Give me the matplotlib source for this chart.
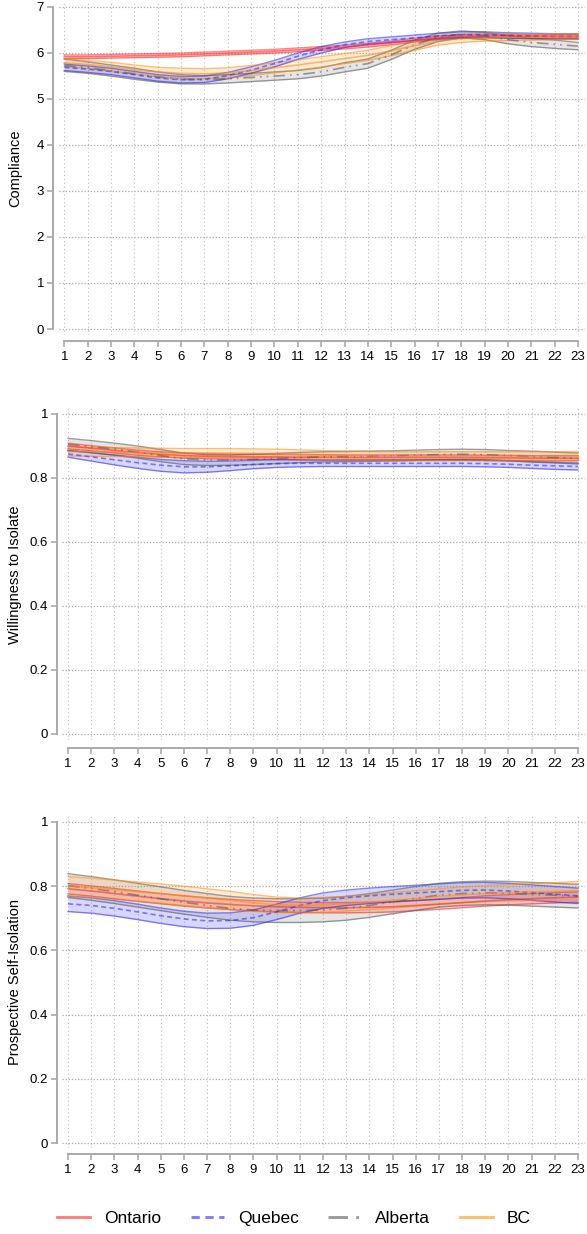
import matplotlib
matplotlib.use("Agg")
import matplotlib.pyplot as plt
from matplotlib.lines import Line2D

plt.rcParams['font.family'] = ['Liberation Sans', 'DejaVu Sans']

weeks = list(range(1, 24))
regions = ['Ontario', 'Quebec', 'Alberta', 'BC']

# ---------- Compliance ----------
comp_ontario = [5.91, 5.91, 5.92, 5.93, 5.94, 5.95, 5.97, 5.99, 6.01, 6.03, 6.06, 6.09,
                6.12, 6.16, 6.21, 6.27, 6.32, 6.35, 6.36, 6.36, 6.35, 6.35, 6.35]
comp_ontario_lo = [5.87, 5.87, 5.88, 5.89, 5.90, 5.91, 5.93, 5.95, 5.97, 5.99, 6.02, 6.05,
                   6.08, 6.12, 6.17, 6.23, 6.28, 6.31, 6.32, 6.32, 6.31, 6.31, 6.31]
comp_ontario_hi = [5.95, 5.95, 5.96, 5.97, 5.98, 5.99, 6.01, 6.03, 6.05, 6.07, 6.10, 6.13,
                   6.16, 6.20, 6.25, 6.31, 6.36, 6.39, 6.40, 6.40, 6.39, 6.39, 6.39]
comp_quebec = [5.68, 5.64, 5.59, 5.52, 5.45, 5.41, 5.42, 5.50, 5.62, 5.76, 5.92, 6.06,
               6.17, 6.24, 6.28, 6.32, 6.36, 6.39, 6.39, 6.37, 6.36, 6.35, 6.35]
comp_quebec_lo = [5.61, 5.57, 5.52, 5.45, 5.38, 5.34, 5.35, 5.43, 5.55, 5.69, 5.85, 5.99,
                  6.11, 6.18, 6.22, 6.26, 6.30, 6.33, 6.33, 6.31, 6.30, 6.29, 6.29]
comp_quebec_hi = [5.75, 5.71, 5.66, 5.59, 5.52, 5.48, 5.49, 5.57, 5.69, 5.83, 5.99, 6.13,
                  6.23, 6.30, 6.34, 6.38, 6.42, 6.45, 6.45, 6.43, 6.42, 6.41, 6.41]
comp_alberta = [5.72, 5.67, 5.61, 5.54, 5.47, 5.42, 5.41, 5.43, 5.46, 5.49, 5.52, 5.58,
                5.68, 5.76, 5.95, 6.17, 6.33, 6.40, 6.36, 6.28, 6.22, 6.18, 6.14]
comp_alberta_lo = [5.59, 5.55, 5.49, 5.42, 5.36, 5.32, 5.32, 5.34, 5.37, 5.40, 5.43, 5.49,
                   5.58, 5.66, 5.85, 6.07, 6.24, 6.32, 6.28, 6.19, 6.13, 6.09, 6.06]
comp_alberta_hi = [5.86, 5.80, 5.73, 5.66, 5.58, 5.52, 5.50, 5.52, 5.55, 5.58, 5.61, 5.67,
                   5.78, 5.86, 6.05, 6.27, 6.42, 6.47, 6.44, 6.37, 6.31, 6.27, 6.22]
comp_bc = [5.78, 5.74, 5.69, 5.63, 5.58, 5.55, 5.54, 5.56, 5.61, 5.67, 5.73, 5.80,
           5.87, 5.94, 6.04, 6.15, 6.25, 6.30, 6.32, 6.33, 6.33, 6.34, 6.34]
comp_bc_lo = [5.70, 5.65, 5.59, 5.53, 5.48, 5.44, 5.43, 5.45, 5.50, 5.56, 5.62, 5.69,
              5.76, 5.83, 5.93, 6.05, 6.16, 6.22, 6.25, 6.26, 6.27, 6.28, 6.28]
comp_bc_hi = [5.87, 5.83, 5.79, 5.73, 5.68, 5.66, 5.65, 5.67, 5.72, 5.78, 5.84, 5.91,
              5.98, 6.05, 6.15, 6.25, 6.34, 6.38, 6.39, 6.40, 6.40, 6.41, 6.41]

# ---------- Willingness to Isolate ----------
will_ontario = [0.900, 0.893, 0.886, 0.879, 0.874, 0.870, 0.868, 0.867, 0.866, 0.866, 0.865, 0.865,
                0.864, 0.864, 0.864, 0.864, 0.864, 0.864, 0.863, 0.863, 0.862, 0.862, 0.862]
will_ontario_lo = [0.891, 0.885, 0.878, 0.871, 0.866, 0.862, 0.860, 0.859, 0.858, 0.858, 0.857, 0.857,
                   0.856, 0.856, 0.856, 0.856, 0.856, 0.856, 0.855, 0.855, 0.854, 0.854, 0.854]
will_ontario_hi = [0.909, 0.901, 0.894, 0.887, 0.882, 0.878, 0.876, 0.875, 0.874, 0.874, 0.873, 0.873,
                   0.872, 0.872, 0.872, 0.872, 0.872, 0.872, 0.871, 0.871, 0.870, 0.870, 0.870]
will_quebec = [0.875, 0.866, 0.857, 0.848, 0.840, 0.835, 0.835, 0.838, 0.842, 0.845, 0.846, 0.846,
               0.846, 0.846, 0.846, 0.846, 0.846, 0.846, 0.845, 0.843, 0.840, 0.838, 0.836]
will_quebec_lo = [0.865, 0.853, 0.841, 0.830, 0.821, 0.816, 0.818, 0.823, 0.829, 0.833, 0.835, 0.836,
                  0.836, 0.836, 0.836, 0.836, 0.836, 0.836, 0.835, 0.833, 0.830, 0.827, 0.825]
will_quebec_hi = [0.886, 0.879, 0.872, 0.865, 0.858, 0.854, 0.852, 0.853, 0.855, 0.857, 0.857, 0.856,
                  0.856, 0.856, 0.856, 0.856, 0.856, 0.856, 0.855, 0.853, 0.851, 0.849, 0.847]
will_alberta = [0.905, 0.898, 0.890, 0.881, 0.870, 0.860, 0.856, 0.856, 0.858, 0.861, 0.864, 0.866,
                0.867, 0.868, 0.869, 0.871, 0.873, 0.874, 0.873, 0.870, 0.867, 0.864, 0.861]
will_alberta_lo = [0.886, 0.879, 0.871, 0.862, 0.851, 0.842, 0.839, 0.840, 0.842, 0.845, 0.848, 0.850,
                   0.851, 0.852, 0.853, 0.855, 0.857, 0.858, 0.857, 0.854, 0.850, 0.847, 0.844]
will_alberta_hi = [0.924, 0.917, 0.909, 0.900, 0.889, 0.878, 0.873, 0.872, 0.874, 0.877, 0.880, 0.882,
                   0.883, 0.884, 0.885, 0.887, 0.889, 0.890, 0.889, 0.886, 0.884, 0.881, 0.878]
will_bc = [0.883, 0.882, 0.881, 0.880, 0.879, 0.878, 0.878, 0.878, 0.877, 0.876, 0.874, 0.872,
           0.870, 0.869, 0.868, 0.868, 0.868, 0.868, 0.868, 0.868, 0.868, 0.868, 0.869]
will_bc_lo = [0.869, 0.868, 0.867, 0.866, 0.865, 0.864, 0.864, 0.864, 0.863, 0.862, 0.860, 0.858,
              0.856, 0.855, 0.854, 0.854, 0.854, 0.854, 0.854, 0.854, 0.854, 0.854, 0.855]
will_bc_hi = [0.897, 0.896, 0.895, 0.894, 0.893, 0.892, 0.892, 0.892, 0.891, 0.890, 0.888, 0.886,
              0.884, 0.883, 0.882, 0.882, 0.882, 0.882, 0.882, 0.882, 0.882, 0.882, 0.883]

# ---------- Prospective Self-Isolation ----------
pros_ontario = [0.792, 0.785, 0.777, 0.769, 0.761, 0.754, 0.748, 0.743, 0.739, 0.736, 0.734, 0.733,
                0.733, 0.734, 0.736, 0.740, 0.744, 0.749, 0.754, 0.758, 0.761, 0.764, 0.766]
pros_ontario_lo = [0.776, 0.769, 0.761, 0.753, 0.745, 0.738, 0.732, 0.727, 0.723, 0.720, 0.718, 0.717,
                   0.717, 0.718, 0.720, 0.724, 0.728, 0.733, 0.738, 0.742, 0.745, 0.748, 0.750]
pros_ontario_hi = [0.808, 0.801, 0.793, 0.785, 0.777, 0.770, 0.764, 0.759, 0.755, 0.752, 0.750, 0.749,
                   0.749, 0.750, 0.752, 0.756, 0.760, 0.765, 0.770, 0.774, 0.777, 0.780, 0.782]
pros_quebec = [0.745, 0.740, 0.731, 0.720, 0.708, 0.698, 0.692, 0.693, 0.702, 0.720, 0.740, 0.755,
               0.764, 0.770, 0.775, 0.779, 0.783, 0.787, 0.788, 0.785, 0.780, 0.775, 0.770]
pros_quebec_lo = [0.721, 0.716, 0.707, 0.696, 0.684, 0.674, 0.668, 0.669, 0.678, 0.696, 0.716, 0.731,
                  0.740, 0.746, 0.751, 0.755, 0.759, 0.763, 0.764, 0.761, 0.756, 0.751, 0.746]
pros_quebec_hi = [0.769, 0.764, 0.755, 0.744, 0.732, 0.722, 0.716, 0.717, 0.726, 0.744, 0.764, 0.779,
                  0.788, 0.794, 0.799, 0.803, 0.807, 0.811, 0.812, 0.809, 0.804, 0.799, 0.794]
pros_alberta = [0.802, 0.793, 0.783, 0.772, 0.761, 0.750, 0.740, 0.731, 0.726, 0.724, 0.724, 0.726,
                0.731, 0.740, 0.751, 0.762, 0.772, 0.777, 0.779, 0.778, 0.775, 0.772, 0.769]
pros_alberta_lo = [0.765, 0.756, 0.746, 0.735, 0.724, 0.713, 0.703, 0.694, 0.689, 0.687, 0.687, 0.689,
                   0.694, 0.703, 0.714, 0.725, 0.735, 0.740, 0.742, 0.741, 0.738, 0.735, 0.732]
pros_alberta_hi = [0.839, 0.830, 0.820, 0.809, 0.798, 0.787, 0.777, 0.768, 0.763, 0.761, 0.761, 0.763,
                   0.768, 0.777, 0.788, 0.799, 0.809, 0.814, 0.816, 0.815, 0.812, 0.809, 0.806]
pros_bc = [0.800, 0.795, 0.789, 0.783, 0.777, 0.770, 0.763, 0.756, 0.748, 0.742, 0.740, 0.742,
           0.745, 0.750, 0.756, 0.762, 0.768, 0.773, 0.777, 0.780, 0.782, 0.784, 0.786]
pros_bc_lo = [0.770, 0.765, 0.759, 0.753, 0.747, 0.740, 0.734, 0.728, 0.722, 0.718, 0.717, 0.719,
              0.722, 0.727, 0.732, 0.738, 0.744, 0.748, 0.752, 0.754, 0.756, 0.757, 0.757]
pros_bc_hi = [0.830, 0.825, 0.819, 0.813, 0.807, 0.800, 0.792, 0.784, 0.774, 0.766, 0.763, 0.765,
              0.768, 0.773, 0.780, 0.786, 0.792, 0.798, 0.802, 0.806, 0.808, 0.811, 0.815]

colors = {'Ontario': '#FF2020', 'Quebec': '#2020FF', 'Alberta': '#505050', 'BC': '#FF8C00'}
fills = {'Ontario': '#FF4040', 'Quebec': '#4040FF', 'Alberta': '#808080', 'BC': '#FFA040'}
styles = {'Ontario': '-', 'Quebec': (0, (3, 2)), 'Alberta': (0, (7, 3, 1, 3, 1, 3)), 'BC': '-'}

W, H = 587, 1234
fig = plt.figure(figsize=(W / 100, H / 100), dpi=100)


def make_axes(left_px, right_px, top_px, bot_px):
    return fig.add_axes([left_px / W, 1 - bot_px / H, (right_px - left_px) / W, (bot_px - top_px) / H])


def draw_panel(ax, data, ymax, yticks, yticklabels, ylabel, ylab_y, px_per_unit_x, x1_px,
               left_px, right_px, zero_px, unit_px, top_px, bot_px, spine_px, axis_px):
    for reg in regions:
        m, lo, hi = data[reg]
        c = colors[reg]
        ax.fill_between(weeks, lo, hi, color=fills[reg], alpha=0.2, lw=0, zorder=2)
        ax.plot(weeks, lo, color=c, alpha=0.55, lw=1.0, zorder=3)
        ax.plot(weeks, hi, color=c, alpha=0.55, lw=1.0, zorder=3)
        ax.plot(weeks, m, color=c, alpha=0.55, lw=1.2, ls=styles[reg], zorder=4)
    # x range so that week 1 and week 23 land on the reference pixels
    xlo = 1 - (x1_px - left_px) / px_per_unit_x
    xhi = 23 + (right_px - (x1_px + 22 * px_per_unit_x)) / px_per_unit_x
    ax.set_xlim(xlo, xhi)
    ylo = -(bot_px - zero_px) / unit_px
    yhi = (zero_px - top_px) / unit_px
    ax.set_ylim(ylo * ymax, yhi * ymax)
    for x in weeks:
        ax.axvline(x, color='#BBBBBB', lw=0.8, ls=(0, (1, 2.5)), zorder=1)
    for y in yticks:
        ax.axhline(y, color='#AAAAAA', lw=0.9, ls=(0, (1, 1.5)), zorder=1)
    for s in ['top', 'right']:
        ax.spines[s].set_visible(False)
    ax.spines['left'].set_position(('outward', (left_px - spine_px) * 0.72))
    ax.spines['bottom'].set_position(('outward', (axis_px - bot_px) * 0.72))
    ax.spines['left'].set_bounds(0, ymax)
    ax.spines['bottom'].set_bounds(1, 23)
    for s in ['left', 'bottom']:
        ax.spines[s].set_color('#AAAAAA')
        ax.spines[s].set_linewidth(1.4)
    ax.set_xticks(weeks)
    ax.set_xticklabels([str(w) for w in weeks])
    ax.set_yticks(yticks)
    ax.set_yticklabels(yticklabels)
    ax.tick_params(axis='both', colors='#AAAAAA', labelcolor='black', labelsize=9.5,
                   length=4, width=1.2)
    ax.tick_params(axis='y', pad=2.5)
    ax.tick_params(axis='x', pad=3.5)
    fig.text(15 / W, 1 - ylab_y / H, ylabel, rotation=90, ha='center', va='center', fontsize=10.5)


panel1 = {'Ontario': (comp_ontario, comp_ontario_lo, comp_ontario_hi),
          'Quebec': (comp_quebec, comp_quebec_lo, comp_quebec_hi),
          'Alberta': (comp_alberta, comp_alberta_lo, comp_alberta_hi),
          'BC': (comp_bc, comp_bc_lo, comp_bc_hi)}
panel2 = {'Ontario': (will_ontario, will_ontario_lo, will_ontario_hi),
          'Quebec': (will_quebec, will_quebec_lo, will_quebec_hi),
          'Alberta': (will_alberta, will_alberta_lo, will_alberta_hi),
          'BC': (will_bc, will_bc_lo, will_bc_hi)}
panel3 = {'Ontario': (pros_ontario, pros_ontario_lo, pros_ontario_hi),
          'Quebec': (pros_quebec, pros_quebec_lo, pros_quebec_hi),
          'Alberta': (pros_alberta, pros_alberta_lo, pros_alberta_hi),
          'BC': (pros_bc, pros_bc_lo, pros_bc_hi)}

comp_ticks = [0, 1, 2, 3, 4, 5, 6, 7]
comp_ticklabels = ['0', '1', '2', '3', '4', '5', '6', '7']
prop_ticks = [0, 0.2, 0.4, 0.6, 0.8, 1.0]
prop_ticklabels = ['0', '0.2', '0.4', '0.6', '0.8', '1']

ax1 = make_axes(59, 585, 3, 335)
draw_panel(ax1, panel1, 7, comp_ticks, comp_ticklabels, 'Compliance', 168,
           23.35, 64.3, 59, 585, 329, 322.5, 3, 335, 53, 341)
ax2 = make_axes(62, 585, 408, 740)
draw_panel(ax2, panel2, 1, prop_ticks, prop_ticklabels, 'Willingness to Isolate', 575,
           23.18, 68, 62, 585, 734, 320, 408, 740, 57, 748)
ax3 = make_axes(62, 585, 815, 1148)
draw_panel(ax3, panel3, 1, prop_ticks, prop_ticklabels, 'Prospective Self-Isolation', 982,
           23.18, 68, 62, 585, 1143, 321, 815, 1148, 57, 1154)

handles = [Line2D([], [], color=colors[r], alpha=0.6, lw=2, ls=styles[r]) for r in regions]
fig.legend(handles, regions, loc='center', bbox_to_anchor=(294 / W, 1 - 1218 / H), ncol=4,
           frameon=False, fontsize=12.5, handlelength=1.9, columnspacing=1.7, handletextpad=0.8)

fig.savefig('out.png', dpi=100)
